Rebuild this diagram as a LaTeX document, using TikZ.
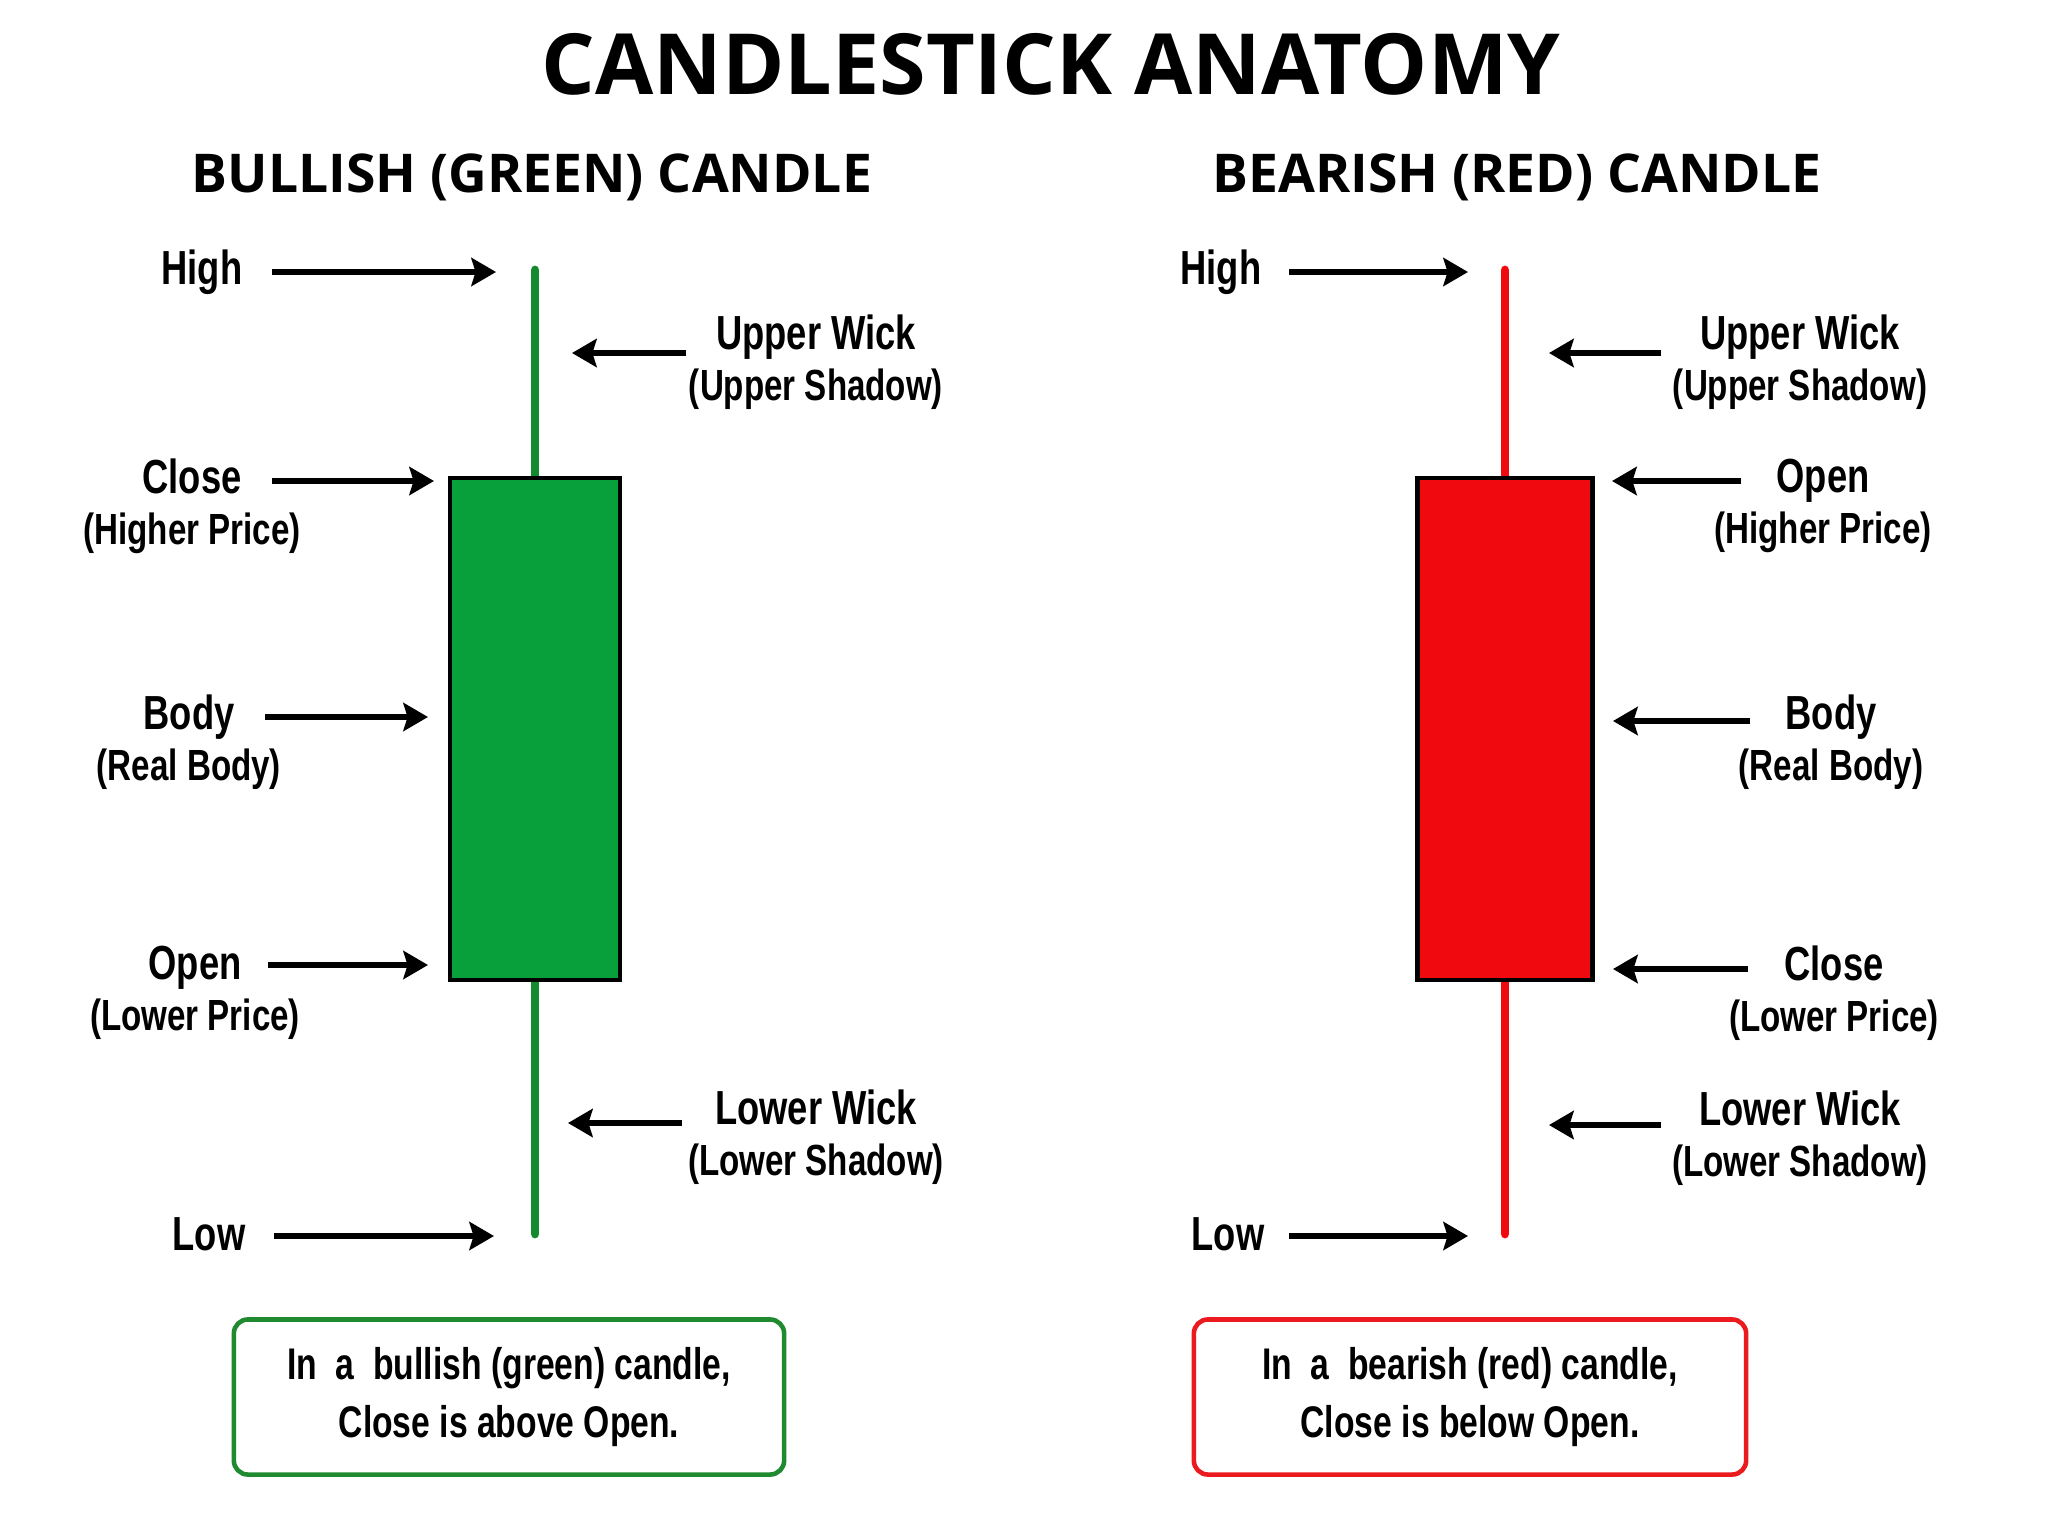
\documentclass[tikz,border=0pt]{standalone}
\usepackage{fontspec}
\usepackage{tikz}
\usetikzlibrary{arrows.meta,positioning}
\setmainfont{Liberation Sans}[FakeStretch=0.76]
\newfontfamily\headfont{Open Sans}
\definecolor{bullgreen}{HTML}{08A03A}
\definecolor{wickgreen}{HTML}{148A2E}
\definecolor{boxgreen}{HTML}{1F8A30}
\definecolor{bearred}{HTML}{F00A10}
\definecolor{boxred}{HTML}{EA1A1E}
\newcommand{\mainlbl}{\fontsize{13.6}{15}\selectfont}

\begin{document}
\begin{tikzpicture}[x=0.01cm, y=-0.01cm,
  title/.style={font=\headfont\bfseries\fontsize{24}{28}\selectfont, inner sep=0},
  subhead/.style={font=\headfont\bfseries\fontsize{15.2}{18}\selectfont, inner sep=0},
  lbl/.style={font=\bfseries\fontsize{12.4}{14.5}\selectfont, align=center, inner sep=0},
  body/.style={draw=black, line width=1.3pt, minimum width=1.7cm, minimum height=5.02cm, inner sep=0},
  wick/.style={line width=2.5pt, line cap=round},
  note/.style={draw, rounded corners=4pt, line width=1.3pt, minimum width=5.5cm, minimum height=1.55cm,
    align=center, font=\bfseries\fontsize{12.6}{16.5}\selectfont},
  arr/.style={-{Stealth[length=7pt, width=8pt, inset=1.2pt]}, line width=1.6pt}
]
  \fill[white] (0,0) rectangle (2048,1536);
  \useasboundingbox (0,0) rectangle (2048,1536);

  \node[title] (title) at (1051,64) {CANDLESTICK ANATOMY};
  \node[subhead] (bullhead) at (532,177) {BULLISH (GREEN) CANDLE};
  \node[subhead] (bearhead) at (1517,177) {BEARISH (RED) CANDLE};

  % bullish candle
  \coordinate (gtop) at (535,270);
  \coordinate (gbot) at (535,1234);
  \draw[wick, wickgreen] (gtop) -- (gbot);
  \node[body, fill=bullgreen] (gbody) at (535,729) {};

  \node[lbl] (gHigh)  at (202,272) {\mainlbl High};
  \node[lbl] (gUpper) at (816,362) {\mainlbl Upper Wick\\(Upper Shadow)};
  \node[lbl] (gClose) at (192,506) {\mainlbl Close\\(Higher Price)};
  \node[lbl] (gBody)  at (189,742) {\mainlbl Body\\(Real Body)};
  \node[lbl] (gOpen)  at (195,993) {\mainlbl Open\\(Lower Price)};
  \node[lbl] (gLower) at (816,1137) {\mainlbl Lower Wick\\(Lower Shadow)};
  \node[lbl] (gLow)   at (209,1234) {\mainlbl Low};

  \coordinate (gHighS) at (272,272);   \coordinate (gHighE) at (496,272);
  \coordinate (gUpperS) at (686,353);  \coordinate (gUpperE) at (572,353);
  \coordinate (gCloseS) at (272,481);  \coordinate (gCloseE) at (434,481);
  \coordinate (gBodyS) at (265,717);   \coordinate (gBodyE) at (428,717);
  \coordinate (gOpenS) at (268,965);   \coordinate (gOpenE) at (428,965);
  \coordinate (gLowerS) at (682,1123); \coordinate (gLowerE) at (568,1123);
  \coordinate (gLowS) at (274,1236);   \coordinate (gLowE) at (494,1236);

  \draw[arr] (gHighS) -- (gHighE);
  \draw[arr] (gUpperS) -- (gUpperE);
  \draw[arr] (gCloseS) -- (gCloseE);
  \draw[arr] (gBodyS) -- (gBodyE);
  \draw[arr] (gOpenS) -- (gOpenE);
  \draw[arr] (gLowerS) -- (gLowerE);
  \draw[arr] (gLowS) -- (gLowE);

  % bearish candle
  \coordinate (rtop) at (1505,270);
  \coordinate (rbot) at (1505,1234);
  \draw[wick, bearred] (rtop) -- (rbot);
  \node[body, fill=bearred, minimum width=1.75cm] (rbody) at (1505,729) {};

  \node[lbl] (rHigh)  at (1221,272) {\mainlbl High};
  \node[lbl] (rUpper) at (1800,362) {\mainlbl Upper Wick\\(Upper Shadow)};
  \node[lbl] (rOpen)  at (1823,506) {\mainlbl Open\\(Higher Price)};
  \node[lbl] (rBody)  at (1831,742) {\mainlbl Body\\(Real Body)};
  \node[lbl] (rClose) at (1834,993) {\mainlbl Close\\(Lower Price)};
  \node[lbl] (rLower) at (1800,1138) {\mainlbl Lower Wick\\(Lower Shadow)};
  \node[lbl] (rLow)   at (1228,1234) {\mainlbl Low};

  \coordinate (rHighS) at (1289,272);   \coordinate (rHighE) at (1468,272);
  \coordinate (rUpperS) at (1661,353);  \coordinate (rUpperE) at (1549,353);
  \coordinate (rOpenS) at (1741,481);   \coordinate (rOpenE) at (1612,481);
  \coordinate (rBodyS) at (1750,721);   \coordinate (rBodyE) at (1613,721);
  \coordinate (rCloseS) at (1748,969);  \coordinate (rCloseE) at (1613,969);
  \coordinate (rLowerS) at (1661,1125); \coordinate (rLowerE) at (1549,1125);
  \coordinate (rLowS) at (1289,1236);   \coordinate (rLowE) at (1468,1236);

  \draw[arr] (rHighS) -- (rHighE);
  \draw[arr] (rUpperS) -- (rUpperE);
  \draw[arr] (rOpenS) -- (rOpenE);
  \draw[arr] (rBodyS) -- (rBodyE);
  \draw[arr] (rCloseS) -- (rCloseE);
  \draw[arr] (rLowerS) -- (rLowerE);
  \draw[arr] (rLowS) -- (rLowE);

  % notes
  \node[note, draw=boxgreen] (bullnote) at (509,1397) {In\ \ a\ \ bullish (green) candle,\\Close is above Open.};
  \node[note, draw=boxred, minimum width=5.52cm] (bearnote) at (1470,1397) {In\ \ a\ \ bearish (red) candle,\\Close is below Open.};
\end{tikzpicture}
\end{document}
